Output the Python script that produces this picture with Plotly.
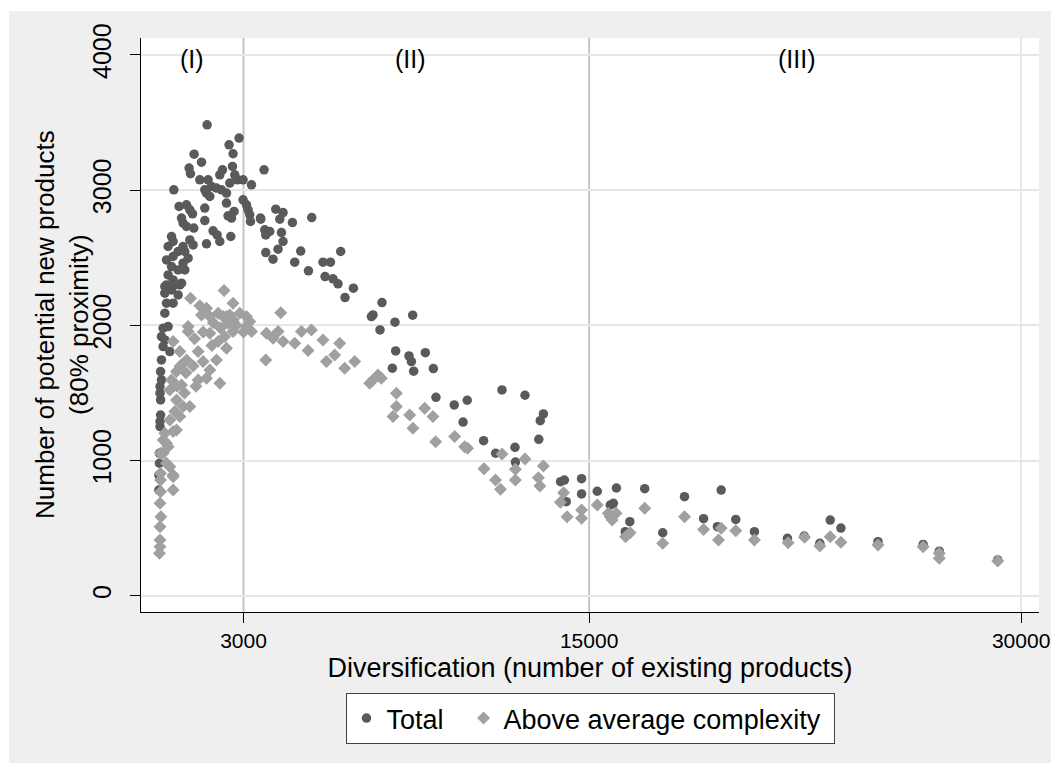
import plotly.graph_objects as go

# ---------------- data ----------------
total_x = [
    1735, 2845, 2498, 2637, 1284, 1541, 1110, 1159, 2616, 2269, 2176, 2696, 2790, 3713, 1482, 1770,
    2523, 2984, 3276, 580, 1655, 1888, 2061, 2235, 2408, 1829, 1714, 2984, 3102, 3158, 3217, 3241,
    3588, 3737, 3772, 3772, 763, 1020, 1135, 1228, 1655, 2408, 2672, 2464, 2582, 1655, 847, 902,
    1020, 1273, 1943, 2082, 2176, 2557, 1714, 500, 555, 382, 902, 1135, 1249, 729, 961, 326, 555,
    1076, 902, 500, 729, 961, 382, 555, 788, 267, 500,
    326, 614, 847, 267, 729, 326, 555, 267, 208, 382, 150, 267, 208, 441, 150, 120, 150, 100, 100,
    120, 120, 100, 100, 80, 80, 60, 60,
    4119, 4372, 4258, 3598, 4698, 5368, 3911, 4317, 4372, 4199, 4025, 4986, 6374, 4778, 5760, 6017,
    5254, 5830, 6107, 6281, 6815, 6524, 7808, 7495, 7440, 8259, 8873, 7738, 8283, 8745, 8828, 9313,
    8168, 8907, 9591, 9681,
    10316, 10767, 10622, 11975, 12773, 13412, 13304, 11336, 13252, 11753, 12426, 12440, 14008, 14140,
    14737, 14737, 14206, 15282, 15948, 15733, 15841, 16413, 16254, 16930, 17555, 18311, 18974, 19585,
    19453, 20091, 20740, 21885, 23370, 23742, 23009, 25030, 22468, 26598, 27157, 29187,
]
total_y = [
    3483, 3385, 3335, 3269, 3266, 3207, 3163, 3121, 3175, 3150, 3113, 3113, 3076, 3150, 3076, 3076,
    3052, 3076, 3039, 3002, 3002, 3027, 3015, 3002, 2978, 2953, 2978, 2928, 2891, 2854, 2817, 2768,
    2793, 2706, 2669, 2538, 2879, 2891, 2854, 2825, 2867, 2904, 2842, 2810, 2793, 2775, 2793, 2756,
    2731, 2719, 2699, 2669, 2620, 2657, 2603, 2657, 2620, 2583, 2583, 2632, 2595, 2546, 2546, 2484, 2509,
    2497, 2460, 2435, 2410, 2410, 2373, 2336, 2299, 2287, 2262,
    2299, 2299, 2312, 2238, 2225, 2164, 2164, 2090, 1979, 1991, 1917, 1892, 1843, 1806, 1744, 1658, 1596, 1547, 1498,
    1448, 1337, 1288, 1251, 1054, 980, 893, 782,
    2859, 2834, 2785, 2785, 2760, 2797, 2694, 2686, 2620, 2563, 2489, 2549, 2546, 2467, 2467, 2467,
    2403, 2361, 2344, 2307, 2275, 2205, 2168, 2077, 2065, 2023, 2075, 1966, 1811, 1774, 1732, 1798,
    1683, 1661, 1680, 1468,
    1411, 1446, 1285, 1522, 1483, 1345, 1295, 1147, 1157, 1054, 1098, 989, 844, 856,
    866, 753, 696, 773, 797, 671, 684, 548, 474, 792, 466, 733, 570, 782,
    511, 565, 474, 425, 560, 501, 388, 400, 442, 380, 330, 265,
]

above_x = [
    2325, 1159, 1482, 1714, 2637, 1541, 2117, 2408, 2637, 2870, 3102, 3217, 4293, 1076, 1076, 1829,
    2523, 3102, 2637, 3276, 2349, 3796, 4025, 4199, 4373, 3772, 4778, 5010, 5358, 5240, 5760, 6340,
    5878, 6166, 6513, 6860, 7495, 7669, 7787, 7381, 8307, 8307, 8189, 8769, 8883, 9289, 9577, 9671,
    10330, 10677,
    1829, 2290, 2464, 2696, 555, 788, 1020, 1423, 1596, 2117, 2408, 2061, 1829, 1714, 2176, 1423,
    673, 500, 441, 847, 673, 614, 788, 1135, 441, 267, 555, 326, 208, 441, 120, 555,
    673, 208, 382, 120, 326, 555, 120, 555, 120, 100, 130, 100, 100, 100, 80,
    1300, 1600, 1900, 1250, 1000, 800, 1350, 950, 700, 900, 2750, 3000, 2200, 1950,
    10781, 11975, 11350, 11749, 11923, 12440, 12440, 12773, 13412, 13238, 13290, 14001, 14112, 14234,
    14737, 14737, 15282, 15667, 15800, 15935, 15733, 16264, 16424, 16930, 17555, 18311, 18974, 19491,
    19585, 20091, 20740, 21910, 22479, 23009, 23370, 23742, 25030, 26598, 27157, 27157, 29187,
]
above_y = [
    2257, 2201, 2144, 2127, 2164, 2077, 2090, 2065, 2040, 2090, 2065, 2028, 2094, 1991, 1954, 1942,
    2077, 1991, 1954, 1954, 1917, 1942, 1905, 1954, 1880, 1744, 1868, 1954, 1966, 1813, 1892, 1868,
    1732, 1781, 1683, 1732, 1596, 1633, 1609, 1572, 1498, 1399, 1325, 1337, 1239, 1387, 1325, 1140,
    1177, 1103,
    2065, 2065, 2016, 1991, 1880, 1806, 1744, 1806, 1732, 1880, 1831, 1744, 1670, 1609, 1572, 1596,
    1658, 1596, 1522, 1559, 1448, 1362, 1325, 1399, 1300, 1202, 1214, 1128, 1054, 955, 906, 893,
    1226, 1152, 1103, 1054, 980, 881, 856, 782, 770, 684, 585, 511, 412, 363, 314,
    1900, 1950, 1850, 1700, 1650, 1700, 1550, 1500, 1550, 1400, 2000, 1950, 1980, 2020,
    1091, 1049, 940, 856, 787, 935, 856, 1012, 960, 873, 812, 691, 762, 585,
    634, 573, 671, 610, 560, 610, 585, 437, 466, 647, 388, 585, 491, 412,
    499, 481, 412, 392, 432, 368, 437, 395, 375, 363, 314, 277, 257,
]

x_ticks = [3000, 15000, 30000]
y_ticks = [0, 1000, 2000, 3000, 4000]
phase_lines = [3000, 15000]
phase_labels = ["(I)", "(II)", "(III)"]
phase_label_x = [1200, 8800, 22200]
phase_label_y = 3970

FONT = "Arial, Liberation Sans, sans-serif"
DARK = "#5a5a5a"
LIGHT = "#a0a0a0"
GRID = "#e6e6e6"
NB = "\u00a0"

fig = go.Figure()
fig.add_trace(go.Scatter(
    x=total_x, y=total_y, mode="markers", name="Total" + NB * 2,
    marker=dict(symbol="circle", size=9.5, color=DARK, line=dict(width=0)),
))
fig.add_trace(go.Scatter(
    x=above_x, y=above_y, mode="markers", name="Above average complexity" + NB,
    marker=dict(symbol="diamond", size=10, color=LIGHT, line=dict(width=0)),
))

L, R, T, B = 141, 12, 38, 161
W, H = 1051, 773
pw, ph = W - L - R, H - T - B

def px_x(p):
    return (p - L) / pw

def px_y(p):
    return (H - B - p) / ph

shapes = []
# vertical grid line at the last x tick (light) and the phase separators (darker)
shapes.append(dict(type="line", xref="x", yref="paper", x0=x_ticks[-1], x1=x_ticks[-1], y0=0, y1=1,
                   line=dict(color=GRID, width=2), layer="below"))
for xv in phase_lines:
    shapes.append(dict(type="line", xref="x", yref="paper", x0=xv, x1=xv, y0=0, y1=1,
                       line=dict(color="#c4c4c4", width=2), layer="below"))
# white outer frame around the grey graph region
shapes.append(dict(type="rect", xref="paper", yref="paper", x0=px_x(-5), x1=px_x(W + 5),
                   y0=px_y(11), y1=px_y(-5), fillcolor="white", line=dict(width=0), layer="above"))
shapes.append(dict(type="rect", xref="paper", yref="paper", x0=px_x(-5), x1=px_x(9),
                   y0=px_y(H + 5), y1=px_y(-5), fillcolor="white", line=dict(width=0), layer="above"))
shapes.append(dict(type="rect", xref="paper", yref="paper", x0=px_x(-5), x1=px_x(W + 5),
                   y0=px_y(H + 5), y1=px_y(763), fillcolor="white", line=dict(width=0), layer="above"))

annotations = []
for lab, xv in zip(phase_labels, phase_label_x):
    annotations.append(dict(x=xv, y=phase_label_y, xref="x", yref="y", text=lab, showarrow=False,
                            font=dict(family=FONT, size=25, color="black")))
annotations.append(dict(x=px_x(62), y=0.5, xref="paper", yref="paper",
                        text="Number of potential new products<br>(80% proximity)",
                        textangle=-90, showarrow=False, xanchor="center", yanchor="middle",
                        font=dict(family=FONT, size=26, color="black")))

fig.update_layout(
    width=W, height=H,
    margin=dict(l=L, r=R, t=T, b=B, pad=0, autoexpand=False),
    paper_bgcolor="#efefef",
    plot_bgcolor="white",
    font=dict(family=FONT, color="black"),
    showlegend=True,
    legend=dict(orientation="h", x=0.5, xanchor="center", y=px_y(693), yanchor="top",
                bgcolor="white", bordercolor="#404040", borderwidth=1,
                font=dict(family=FONT, size=27, color="black")),
    xaxis=dict(range=[-560, 30620], tickvals=x_ticks, ticktext=[str(v) for v in x_ticks],
               showgrid=False, zeroline=False, automargin=False,
               showline=True, linecolor="black", linewidth=1, ticks="outside", ticklen=10,
               tickcolor="black", tickfont=dict(family=FONT, size=21, color="black"),
               title=dict(text="Diversification (number of existing products)",
                          font=dict(family=FONT, size=27, color="black"), standoff=6)),
    yaxis=dict(range=[-120, 4125], tickvals=y_ticks, ticktext=[str(v) for v in y_ticks],
               tickangle=-90, showgrid=True, gridcolor=GRID, gridwidth=2, zeroline=False,
               automargin=False, ticklabelstandoff=9,
               showline=True, linecolor="black", linewidth=1, ticks="outside", ticklen=10,
               tickcolor="black", tickfont=dict(family=FONT, size=25, color="black")),
    shapes=shapes,
    annotations=annotations,
)

fig.write_html("out.html")
